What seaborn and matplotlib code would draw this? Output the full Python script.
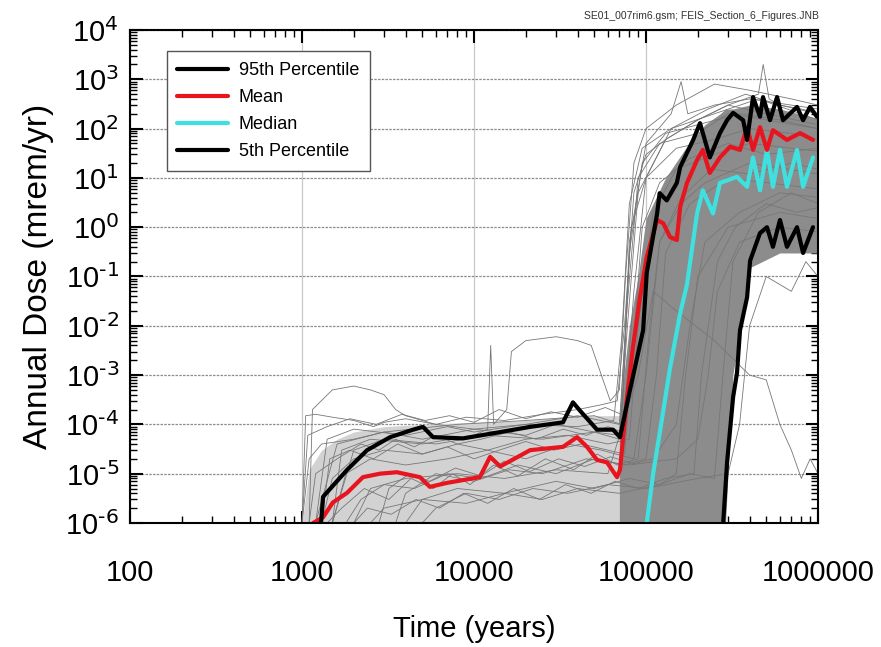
import matplotlib
matplotlib.use("Agg")
import matplotlib.pyplot as plt
import matplotlib.ticker as mticker
import numpy as np
import pandas as pd
import seaborn as sns

# ---- summary curves (time in years, dose in mrem/yr)
p95_t = [1290, 1325, 1830, 2390, 3250, 4420, 5050, 5780, 8630, 13600, 21200, 32900,
         37600, 41300, 51900, 64300, 70600, 80700, 96200, 101000, 116000, 120000,
         132000, 151000, 158000, 188000, 206000, 235000, 269000, 296000, 321000,
         367000, 387000, 419000, 460000, 479000, 526000, 578000, 626000, 755000,
         819000, 898000, 986000]
p95_d = [1e-6, 3.4e-6, 1.2e-5, 3.0e-5, 5.5e-5, 7.8e-5, 8.9e-5, 5.5e-5, 5.2e-5, 6.8e-5,
         8.9e-5, 1.1e-4, 2.8e-4, 1.9e-4, 7.8e-5, 7.8e-5, 5.5e-5, 5.0e-4, 8.1e-3, 0.12,
         1.9, 4.9, 3.5, 7.9, 16.6, 59, 129, 26, 81, 148, 209, 148, 59, 436, 174, 436,
         148, 436, 148, 275, 148, 275, 174]

mean_t = [1160, 1325, 1510, 1830, 2090, 2260, 2840, 3560, 4850, 5540, 6960, 10800,
          12400, 14200, 21200, 32900, 39700, 45400, 51900, 59300, 67800, 70600, 77600,
          84000, 92200, 101000, 116000, 126000, 138000, 151000, 158000, 173000, 198000,
          214000, 235000, 269000, 308000, 352000, 387000, 419000, 460000, 505000,
          547000, 660000, 786000, 935000]
mean_d = [1e-6, 1.3e-6, 2.6e-6, 4.1e-6, 6.5e-6, 8.5e-6, 1.0e-5, 1.07e-5, 8.5e-6, 5.4e-6,
          6.5e-6, 8.5e-6, 2.2e-5, 1.4e-5, 3.0e-5, 3.5e-5, 5.5e-5, 3.5e-5, 1.9e-5, 1.7e-5,
          8.5e-6, 1.2e-5, 3.6e-4, 3.7e-3, 0.038, 0.25, 1.4, 1.2, 0.63, 0.55, 2.6, 7.9,
          23, 37, 12.6, 26, 43, 37, 107, 37, 107, 37, 93, 59, 81, 59]

med_t = [101000, 110000, 121000, 138000, 158000, 173000, 198000, 214000, 245000, 269000,
         338000, 387000, 419000, 460000, 505000, 547000, 601000, 660000, 755000, 819000,
         935000]
med_d = [1e-6, 1.0e-5, 7.8e-5, 1.4e-3, 0.018, 0.068, 1.9, 5.6, 1.9, 7.9, 10.5, 6.6, 26,
         5.6, 37, 6.6, 37, 6.6, 37, 6.6, 26]

p05_t = [281000, 296000, 321000, 338000, 352000, 387000, 403000, 460000, 505000, 547000,
         601000, 660000, 755000, 819000, 935000]
p05_d = [1e-6, 1.7e-5, 3.6e-4, 1.1e-3, 8.1e-3, 0.038, 0.21, 0.76, 1.0, 0.40, 1.4, 0.40,
         1.0, 0.30, 1.0]

# ---- envelope of the dense cloud of realizations
early_t = [1000, 1100, 1300, 1600, 2000, 3000, 5000, 10000, 20000, 40000, 60000, 72000]
early_hi = [1e-6, 1.2e-5, 3e-5, 5e-5, 7e-5, 9e-5, 1e-4, 1.1e-4, 1.2e-4, 1.5e-4, 1.5e-4, 1.5e-4]
early_lo = [1e-6] * 12

late_t = [70000, 80000, 90000, 100000, 130000, 170000, 220000, 270000, 290000, 320000,
          400000, 600000, 1000000]
late_hi = [1.5e-4, 1e-2, 0.1, 1.5, 10, 40, 120, 200, 250, 250, 300, 250, 160]
late_lo = [1e-6, 1e-6, 1e-6, 1e-6, 1e-6, 1e-6, 1e-6, 1e-6, 1e-6, 1e-3, 0.15, 0.3, 0.3]

# ---- individual realizations (thin grey)
runs = {
    "A": ([1000, 1050, 1200, 1500, 2000, 2600, 3000, 4000, 6000, 9000, 15000, 25000, 40000,
           55000, 68000, 75000, 85000, 100000, 130000, 200000, 300000, 500000, 1000000],
          [1e-6, 1.5e-4, 1.6e-4, 1.4e-4, 1.2e-4, 9e-5, 1.1e-4, 1.3e-4, 1.0e-4, 1.4e-4, 1.2e-4,
           1.6e-4, 2e-4, 2.5e-4, 3e-4, 1e-2, 5, 30, 60, 150, 300, 200, 120]),
    "B": ([1500, 1700, 2500, 5000, 10000, 12000, 12500, 13000, 15500, 16500, 20000, 30000,
           40000, 48000, 55000, 62000, 70000, 76000, 85000, 100000, 150000, 250000, 400000,
           700000, 1000000],
          [1e-6, 3e-5, 5e-5, 4e-5, 6e-5, 8e-5, 4e-3, 1e-4, 2e-4, 3e-3, 5e-3, 6e-3, 5e-3, 4e-3,
           1e-3, 3e-4, 5e-4, 0.1, 20, 100, 300, 800, 600, 400, 300]),
    "C": ([1100, 1150, 1500, 2000, 2500, 3000, 3500, 4000, 6000, 10000, 20000, 40000, 70000,
           78000, 90000, 120000, 200000, 300000, 500000, 1000000],
          [1e-6, 2e-4, 5e-4, 6e-4, 5e-4, 4e-4, 2e-4, 1.5e-4, 1e-4, 8e-5, 1e-4, 1.5e-4, 1e-4,
           3e-2, 10, 50, 80, 200, 150, 100]),
    "D": ([1300, 1500, 2000, 3000, 5000, 8000, 12000, 20000, 35000, 60000, 80000, 90000,
           110000, 150000, 250000, 400000, 700000, 1000000],
          [1e-6, 8e-6, 2e-5, 3e-5, 2.5e-5, 4e-5, 3e-5, 5e-5, 6e-5, 4e-5, 5e-5, 1e-2, 2, 15, 30,
           50, 40, 35]),
    "E": ([1800, 2200, 3000, 4500, 7000, 11000, 18000, 30000, 50000, 75000, 100000, 115000,
           130000, 180000, 300000, 500000, 1000000],
          [1e-6, 3e-6, 6e-6, 5e-6, 1e-5, 8e-6, 1.5e-5, 1e-5, 2e-5, 1.5e-5, 2e-5, 1e-3, 0.3, 3,
           10, 8, 6]),
    "F": ([2500, 3000, 5000, 9000, 15000, 25000, 40000, 70000, 120000, 150000, 170000,
           200000, 300000, 600000, 1000000],
          [1e-6, 2e-6, 3e-6, 2.5e-6, 4e-6, 3e-6, 5e-6, 4e-6, 6e-6, 1e-5, 1e-3, 0.1, 1, 2, 1.5]),
    "G": ([1200, 1400, 2000, 4000, 7000, 10000, 20000, 40000, 65000, 72000, 80000, 95000,
           140000, 250000, 450000, 1000000],
          [1e-6, 5e-5, 8e-5, 6e-5, 9e-5, 7e-5, 1e-4, 9e-5, 1.2e-4, 5e-3, 3, 40, 100, 200, 400,
           150]),
    "H": ([3500, 4000, 6000, 10000, 16000, 25000, 45000, 80000, 150000, 200000, 230000,
           260000, 350000, 600000, 1000000],
          [1e-6, 4e-6, 1e-5, 7e-6, 1.2e-5, 1e-5, 2e-5, 1.5e-5, 2e-5, 5e-5, 1e-3, 5e-2, 0.5, 1,
           0.8]),
    "I": ([1500, 1800, 2500, 4000, 7000, 12000, 20000, 35000, 55000, 85000, 100000, 120000,
           160000, 220000, 400000, 1000000],
          [1e-6, 1e-5, 2e-5, 1.5e-5, 2e-5, 3e-5, 2e-5, 4e-5, 3e-5, 2e-5, 1e-3, 0.5, 3, 8, 20,
           12]),
    "J": ([5000, 6000, 9000, 14000, 22000, 35000, 60000, 100000, 200000, 300000, 350000,
           400000, 500000, 700000, 850000, 1000000],
          [1e-6, 2e-6, 4e-6, 3e-6, 5e-6, 4e-6, 6e-6, 5e-6, 8e-6, 1e-5, 1e-4, 1e-2, 0.1, 0.05,
           0.2, 0.1]),
    "K": ([2000, 2500, 4000, 8000, 15000, 30000, 60000, 90000, 110000, 150000, 250000,
           400000, 500000, 600000, 700000, 800000, 900000, 1000000],
          [1e-6, 5e-6, 8e-6, 1e-5, 8e-6, 1.2e-5, 1e-5, 1e-3, 0.05, 0.02, 5e-3, 1e-3, 8e-4,
           1e-4, 3e-5, 8e-6, 2e-5, 1e-5]),
    "L": ([1000, 1100, 1300, 2000, 3000, 5000, 10000, 20000, 30000, 50000, 70000, 76000,
           82000, 100000, 150000, 250000, 400000, 700000, 1000000],
          [1e-6, 2e-5, 4e-5, 5e-5, 7e-5, 5e-5, 8e-5, 6e-5, 1e-4, 7e-5, 6e-5, 1e-2, 1, 10, 40,
           60, 100, 80, 60]),
    "M": ([4000, 5000, 8000, 15000, 30000, 50000, 80000, 120000, 180000, 250000, 280000,
           320000, 450000, 700000, 1000000],
          [1e-6, 3e-6, 5e-6, 4e-6, 7e-6, 5e-6, 8e-6, 6e-6, 1e-5, 8e-6, 1e-3, 0.2, 2, 5, 3]),
    "N": ([1500, 2000, 3000, 6000, 12000, 25000, 50000, 70000, 78000, 90000, 130000, 200000,
           300000, 450000, 480000, 520000, 600000, 800000, 1000000],
          [1e-6, 3e-5, 5e-5, 4e-5, 6e-5, 5e-5, 7e-5, 5e-5, 1e-2, 5, 60, 150, 300, 500, 2000,
           400, 300, 250, 200]),
    "O": ([1200, 1600, 3000, 8000, 20000, 50000, 72000, 80000, 100000, 140000, 160000,
           175000, 250000, 400000, 1000000],
          [1e-6, 4e-5, 7e-5, 1e-4, 1.2e-4, 1.5e-4, 1e-4, 0.5, 50, 200, 900, 200, 300, 400,
           250]),
    "P": ([1100, 1200, 1600, 2200, 2800, 3500, 4500, 6000, 8000, 11000, 16000, 23000, 33000,
           45000, 60000, 72000, 80000, 95000, 130000, 200000, 350000, 600000, 1000000],
          [1e-6, 1e-5, 2e-5, 4e-5, 3e-5, 5e-5, 3.5e-5, 6e-5, 4e-5, 5e-5, 7e-5, 5e-5, 8e-5,
           6e-5, 9e-5, 7e-5, 0.3, 20, 80, 120, 200, 150, 100]),
    "Q": ([1400, 1700, 2300, 3200, 4300, 5800, 7500, 9500, 13000, 18000, 26000, 38000, 52000,
           68000, 90000, 105000, 120000, 160000, 240000, 400000, 700000, 1000000],
          [1e-6, 2e-6, 5e-6, 3e-6, 8e-6, 5e-6, 1e-5, 6e-6, 1.5e-5, 9e-6, 2e-5, 1.2e-5, 2.5e-5,
           1.5e-5, 2e-5, 1e-2, 0.5, 4, 15, 12, 20, 15]),
    "R": ([1000, 1080, 1400, 1900, 2700, 3800, 5200, 7200, 10000, 14000, 20000, 28000, 40000,
           58000, 75000, 85000, 100000, 140000, 230000, 380000, 600000, 1000000],
          [1e-6, 6e-5, 9e-5, 1.3e-4, 1e-4, 1.6e-4, 1.2e-4, 1.5e-4, 1.1e-4, 2e-4, 1.3e-4,
           1.8e-4, 1.4e-4, 2.2e-4, 1.5e-4, 0.05, 10, 100, 250, 500, 300, 200]),
    "S": ([2000, 2400, 3300, 4600, 6300, 8700, 12000, 17000, 24000, 34000, 48000, 66000,
           90000, 130000, 190000, 210000, 260000, 330000, 500000, 750000, 1000000],
          [1e-6, 2e-6, 1.5e-6, 3e-6, 2e-6, 4e-6, 2.5e-6, 5e-6, 3e-6, 6e-6, 4e-6, 7e-6, 5e-6,
           8e-6, 1e-5, 1e-3, 0.2, 1, 3, 2, 2.5]),
    "T": ([1300, 1450, 1900, 2600, 3600, 5000, 7000, 10000, 14000, 20000, 29000, 42000, 60000,
           75000, 82000, 95000, 120000, 180000, 300000, 500000, 1000000],
          [1e-6, 2e-5, 3e-5, 2e-5, 4e-5, 2.5e-5, 3.5e-5, 2e-5, 3e-5, 4.5e-5, 3e-5, 4e-5, 3e-5,
           2.5e-5, 1e-3, 1, 8, 25, 50, 30, 40]),
    "U": ([2800, 3200, 4200, 5500, 7800, 11000, 15000, 21000, 31000, 44000, 62000, 85000,
           110000, 150000, 180000, 220000, 350000, 600000, 1000000],
          [1e-6, 5e-6, 1e-5, 7e-6, 1.3e-5, 9e-6, 1.8e-5, 1.1e-5, 2e-5, 1.4e-5, 2.2e-5, 1.6e-5,
           2e-5, 1e-4, 0.01, 0.5, 2, 5, 4]),
}

rows = []
for name, (ts, ds) in runs.items():
    for t, d in zip(ts, ds):
        rows.append((name, t, d))
real = pd.DataFrame(rows, columns=["run", "time", "dose"])

sns.set_style("ticks")
plt.rcParams["font.family"] = ["Liberation Sans", "DejaVu Sans"]
plt.rcParams["axes.unicode_minus"] = False
for key in ["text.color", "axes.labelcolor", "xtick.color", "ytick.color"]:
    plt.rcParams[key] = "black"

fig = plt.figure(figsize=(8.81, 6.47), dpi=100)
ax = fig.add_axes([0.1476, 0.1917, 0.7809, 0.7619])

ax.fill_between(early_t, early_lo, early_hi, color="#d2d2d2", lw=0, zorder=1)
ax.fill_between(late_t, late_lo, late_hi, color="#8c8c8c", lw=0, zorder=1)

sns.lineplot(data=real, x="time", y="dose", units="run", estimator=None, color="#777777",
             lw=0.6, ax=ax, legend=False, zorder=2)

l5 = sns.lineplot(x=p05_t, y=p05_d, color="black", lw=3, ax=ax, zorder=3).lines[-1]
lmed = sns.lineplot(x=med_t, y=med_d, color="#3fe0e0", lw=3, ax=ax, zorder=4).lines[-1]
lmean = sns.lineplot(x=mean_t, y=mean_d, color="#e8141e", lw=3, ax=ax, zorder=5).lines[-1]
l95 = sns.lineplot(x=p95_t, y=p95_d, color="black", lw=3, ax=ax, zorder=6).lines[-1]

ax.set_xscale("log")
ax.set_yscale("log")
ax.set_xlim(100, 1e6)
ax.set_ylim(1e-6, 1e4)

ax.xaxis.set_major_locator(mticker.FixedLocator([1e2, 1e3, 1e4, 1e5, 1e6]))
ax.xaxis.set_major_formatter(mticker.FixedFormatter(["100", "1000", "10000", "100000", "1000000"]))
ax.xaxis.set_minor_locator(mticker.LogLocator(base=10, subs=np.arange(2, 10), numticks=20))
ax.xaxis.set_minor_formatter(mticker.NullFormatter())
yt = [10.0 ** k for k in range(-6, 5)]
ax.yaxis.set_major_locator(mticker.FixedLocator(yt))
ax.yaxis.set_major_formatter(mticker.FixedFormatter(
    [r"$\mathregular{10^{\text{%d}}}$" % k for k in range(-6, 5)]))
ax.yaxis.set_minor_locator(mticker.LogLocator(base=10, subs=np.arange(2, 10), numticks=30))
ax.yaxis.set_minor_formatter(mticker.NullFormatter())

ax.tick_params(which="both", direction="in", top=True, right=True, colors="black")
ax.tick_params(which="major", length=9, width=1.5, labelsize=21)
ax.tick_params(axis="x", which="major", pad=26)
ax.tick_params(axis="y", which="major", pad=8)
ax.tick_params(which="minor", length=5, width=1.0)

ax.grid(axis="x", which="major", color="#c8c8c8", lw=0.9, ls="-")
ax.grid(axis="y", which="major", color="#8c8c8c", lw=0.9, ls=(0, (2, 1)))
ax.set_axisbelow(True)
for s in ax.spines.values():
    s.set_linewidth(1.5)
    s.set_color("black")
    s.set_zorder(7)

ax.set_xlabel("Time (years)", fontsize=21, labelpad=20)
ax.set_ylabel("Annual Dose (mrem/yr)", fontsize=24, labelpad=8)

leg = ax.legend([l95, lmean, lmed, l5],
                ["95th Percentile", "Mean", "Median", "5th Percentile"],
                loc="upper left", bbox_to_anchor=(0.04, 0.975), fontsize=13,
                frameon=True, fancybox=False, edgecolor="#555555", framealpha=1,
                handlelength=2.8, handletextpad=0.6, labelspacing=0.55, borderpad=0.6)
leg.get_frame().set_linewidth(1.0)
leg.set_zorder(10)

fig.text(0.93, 0.975, "SE01_007rim6.gsm; FEIS_Section_6_Figures.JNB", fontsize=7.5,
         ha="right", va="center", color="#333333")

fig.savefig("out.png", dpi=100)
